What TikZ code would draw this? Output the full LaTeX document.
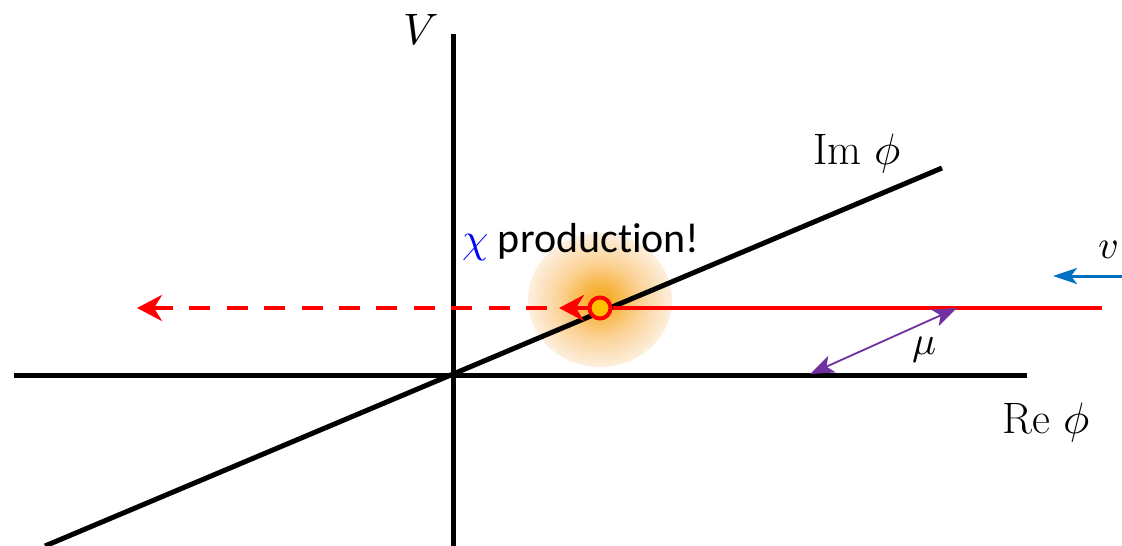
\documentclass[tikz,border=0pt]{standalone}
\usepackage{fontspec}
\usepackage{unicode-math}
\setmathfont{Latin Modern Math}
\newfontfamily\calibri[Ligatures=NoCommon]{Carlito}
\usetikzlibrary{arrows.meta}
\definecolor{redl}{RGB}{255,0,0}
\definecolor{bluev}{RGB}{0,112,192}
\definecolor{chiblue}{RGB}{0,0,255}
\definecolor{purp}{RGB}{112,48,160}
\definecolor{glowc}{RGB}{247,176,50}
\definecolor{glowm}{RGB}{251,210,150}
\definecolor{glowe}{RGB}{253,239,222}
\definecolor{markfill}{RGB}{255,192,0}
\pgfdeclareradialshading{glowshade}{\pgfpointorigin}{color(0bp)=(glowc); color(4bp)=(glowc); color(14bp)=(glowm); color(25bp)=(glowe); color(50bp)=(glowe)}
\begin{document}
\begin{tikzpicture}[x=1pt,y=-1pt,
  axis/.style={line width=5pt, black},
  redline/.style={line width=4.5pt, redl},
  bigtip/.style={-{Stealth[length=25pt,width=26pt,inset=8pt]}},
  lbl/.style={font=\fontsize{44}{50}\selectfont, inner sep=0pt},
  sanslbl/.style={font=\calibri\fontsize{42}{48}\selectfont, inner sep=0pt},
  ptip/.tip={Stealth[length=24pt,width=18pt,inset=6pt]}]
\useasboundingbox (0,0) rectangle (1122,546);
% glow
\coordinate (G) at (600,300);
\shade[shading=glowshade] (G) ellipse[x radius=72pt, y radius=67pt];
% axes
\coordinate (O) at (453,375);
\coordinate (Vtop) at (453,34);
\coordinate (Vbot) at (453,546);
\coordinate (Rl) at (14,375);
\coordinate (Rr) at (1027,375);
\coordinate (Dl) at (45,546);
\coordinate (Dr) at (942,168);
\draw[axis] (Vtop) -- (Vbot);
\draw[axis] (Rl) -- (Rr);
\draw[axis] (Dl) -- (Dr);
% labels
\node[lbl, anchor=base] (Vl) at (421,44) {$V$};
\node[lbl, anchor=base west] (Iml) at (813,164) {Im $\phi$};
\node[lbl, anchor=base west] (Rel) at (1002,433) {Re $\phi$};
\node[sanslbl, anchor=base west] (chil) at (462,252) {\textcolor{chiblue}{$\chi$} production!};
% red trajectory
\node[circle, draw=redl, line width=4pt, fill=markfill, minimum size=21pt, inner sep=0pt] (P) at (600,308) {};
\coordinate (Rend) at (1102,308);
\coordinate (Atip) at (559,308);
\coordinate (Dstart) at (547,308);
\coordinate (Dend) at (137,308);
\draw[redline] (P.east) -- (Rend);
\draw[redline, bigtip] (P.west) -- (Atip);
\draw[redline, bigtip, dash pattern=on 21pt off 16.4pt] (Dstart) -- (Dend);
% velocity
\coordinate (Bs) at (1122,276);
\coordinate (Be) at (1053,276);
\draw[bluev, line width=3pt, -{Stealth[length=24pt,width=16pt,inset=6pt]}] (Bs) -- (Be);
\node[lbl, font=\fontsize{40}{46}\selectfont] (vl) at (1108,250) {$v$};
% mu
\coordinate (Ma) at (810,374);
\coordinate (Mb) at (957,308);
\draw[purp, line width=1.8pt, ptip-ptip] (Ma) -- (Mb);
\node[lbl, font=\fontsize{40}{46}\selectfont] (mul) at (925,350) {$\mu$};
\end{tikzpicture}
\end{document}
